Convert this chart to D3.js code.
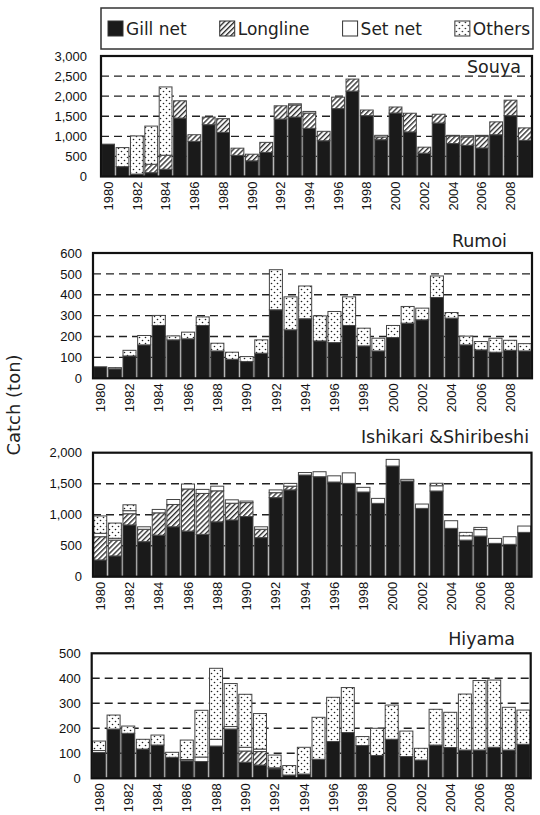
<!DOCTYPE html>
<html>
<head>
<meta charset="utf-8">
<script src="https://cdn.jsdelivr.net/npm/d3@7"></script>
<style>
  html, body { margin: 0; padding: 0; background: #fff; }
  svg { display: block; }
</style>
</head>
<body>
<svg id="chart" width="540" height="815"></svg>
<script>
// Catch by fishing method, four coastal districts, 1980-2009 (tons)
const years = [1980,1981,1982,1983,1984,1985,1986,1987,1988,1989,
               1990,1991,1992,1993,1994,1995,1996,1997,1998,1999,
               2000,2001,2002,2003,2004,2005,2006,2007,2008,2009];
const gearTypes = ["Gill net", "Longline", "Set net", "Others"];

// Souya
const souyaGill   = [805,245,60,95,180,1455,875,1290,1100,525,390,600,1430,1480,1200,890,1690,2125,1515,915,1580,1110,580,1330,820,775,710,1040,1515,900];
const souyaLong   = [0,0,0,210,350,430,165,190,340,180,165,250,330,300,380,235,285,300,140,70,150,465,150,220,190,210,290,320,385,310];
const souyaSet    = [0,0,0,0,0,0,0,0,0,0,0,0,0,30,40,0,0,0,0,40,0,0,0,0,15,30,25,0,0,0];
const souyaOthers = [0,475,950,950,1700,0,0,0,0,0,0,0,0,0,0,0,0,0,0,0,0,0,0,0,0,0,0,0,0,0];

// Rumoi
const rumoiGill   = [55,45,107,160,253,184,189,253,131,91,80,120,328,232,285,179,171,253,155,131,195,264,280,387,288,160,136,125,134,131];
const rumoiLong   = [0,0,0,0,0,0,0,0,0,0,0,0,0,0,0,0,0,0,0,0,0,0,0,0,0,0,0,0,0,0];
const rumoiSet    = [0,0,0,0,0,0,0,0,0,0,0,0,0,0,0,0,0,0,0,0,0,0,0,0,0,0,0,0,0,0];
const rumoiOthers = [0,6,27,45,48,19,32,41,37,34,24,64,192,158,157,120,149,137,85,61,58,80,56,103,27,42,40,67,48,35];

// Ishikari & Shiribeshi
const ishikariGill   = [270,335,835,565,670,805,735,683,885,915,970,630,1275,1400,1640,1613,1527,1505,1366,1183,1785,1543,1102,1382,780,590,655,538,522,715];
const ishikariLong   = [375,255,180,200,360,360,680,660,500,270,225,135,80,60,0,0,0,0,0,0,0,0,0,0,0,0,0,0,0,0];
const ishikariSet    = [55,30,50,40,55,80,80,65,75,55,25,40,45,45,40,80,100,170,75,80,107,27,70,85,123,70,105,80,123,102];
const ishikariOthers = [280,245,95,0,0,0,0,0,0,0,0,0,0,0,0,0,0,0,0,0,0,0,0,40,0,55,35,0,0,0];

// Hiyama
const hiyamaGill   = [103,197,180,117,133,84,70,67,129,197,64,53,38,13,17,76,147,183,131,91,156,87,73,133,123,113,113,124,113,136];
const hiyamaLong   = [0,0,0,0,0,0,0,0,0,0,45,54,0,0,0,0,0,0,0,0,0,0,0,0,0,0,0,0,0,0];
const hiyamaSet    = [8,0,0,0,0,0,5,18,27,10,15,10,4,0,0,0,0,0,0,0,0,0,0,0,0,0,0,0,0,0];
const hiyamaOthers = [38,56,29,39,40,20,78,187,284,172,212,142,51,38,107,168,177,180,36,109,137,102,47,143,141,224,278,269,171,137];

const yTickLabelsSouya    = ["0","500","1,000","1,500","2,000","2,500","3,000"];
const yTickLabelsRumoi    = ["0","100","200","300","400","500","600"];
const yTickLabelsIshikari = ["0","500","1,000","1,500","2,000"];
const yTickLabelsHiyama   = ["0","100","200","300","400","500"];

// Panel layout
const panels = [
  { title: "Souya", series: [souyaGill, souyaLong, souyaSet, souyaOthers], yMax: 3000, step: 500, tickLabels: yTickLabelsSouya,
    x0: 101, x1: 532, y0: 56, y1: 176.5, labelGap: 14, titleX: 521, titleY: 73 },
  { title: "Rumoi", series: [rumoiGill, rumoiLong, rumoiSet, rumoiOthers], yMax: 600, step: 100, tickLabels: yTickLabelsRumoi,
    x0: 93, x1: 532, y0: 253, y1: 378.3, labelGap: 11, titleX: 507, titleY: 247 },
  { title: "Ishikari &Shiribeshi", series: [ishikariGill, ishikariLong, ishikariSet, ishikariOthers], yMax: 2000, step: 500, tickLabels: yTickLabelsIshikari,
    x0: 93, x1: 531.5, y0: 452.7, y1: 576.7, labelGap: 11, titleX: 529, titleY: 443 },
  { title: "Hiyama", series: [hiyamaGill, hiyamaLong, hiyamaSet, hiyamaOthers], yMax: 500, step: 100, tickLabels: yTickLabelsHiyama,
    x0: 91.7, x1: 530.7, y0: 653.3, y1: 778.3, labelGap: 11, titleX: 515, titleY: 645 }
];

const svg = d3.select("#chart");
const defs = svg.append("defs");

// Diagonal hatch for longline
const hatch = defs.append("pattern")
  .attr("id", "hatch").attr("patternUnits", "userSpaceOnUse")
  .attr("width", 3.6).attr("height", 3.6)
  .attr("patternTransform", "rotate(45)");
hatch.append("rect").attr("width", 3.6).attr("height", 3.6).attr("fill", "#fff");
hatch.append("line").attr("x1", 0.7).attr("y1", 0).attr("x2", 0.7).attr("y2", 3.6)
  .attr("stroke", "#222").attr("stroke-width", 1.3);

// Dot fill for others
const dots = defs.append("pattern")
  .attr("id", "dots").attr("patternUnits", "userSpaceOnUse")
  .attr("width", 6).attr("height", 6);
dots.append("rect").attr("width", 6).attr("height", 6).attr("fill", "#fff");
dots.append("circle").attr("cx", 1.5).attr("cy", 1.5).attr("r", 0.8).attr("fill", "#222");
dots.append("circle").attr("cx", 4.5).attr("cy", 4.5).attr("r", 0.8).attr("fill", "#222");

const fills = ["#1a1a1a", "url(#hatch)", "#fff", "url(#dots)"];

const fontTick = "'Liberation Sans', Arial, sans-serif";
const fontTitle = "'DejaVu Sans', sans-serif";

panels.forEach(p => {
  const g = svg.append("g");
  const x = d3.scaleBand().domain(years).range([p.x0, p.x1]).paddingInner(0.11).paddingOuter(0.05);
  const y = d3.scaleLinear().domain([0, p.yMax]).range([p.y1, p.y0]);
  const tickVals = d3.range(0, p.yMax + 1, p.step);

  // dashed grid
  g.append("g").selectAll("line")
    .data(tickVals.filter(v => v > 0 && v < p.yMax))
    .join("line")
    .attr("x1", p.x0).attr("x2", p.x1)
    .attr("y1", d => y(d)).attr("y2", d => y(d))
    .attr("stroke", "#222").attr("stroke-width", 1.4)
    .attr("stroke-dasharray", "8,5");

  // stacked bars
  const rows = years.map((yr, i) => {
    const r = { year: yr };
    gearTypes.forEach((k, j) => { r[k] = p.series[j][i]; });
    return r;
  });
  const stacked = d3.stack().keys(gearTypes)(rows);
  stacked.forEach((layer, li) => {
    g.append("g").selectAll("rect")
      .data(layer.filter(d => d[1] - d[0] > 0))
      .join("rect")
      .attr("x", d => x(d.data.year))
      .attr("width", x.bandwidth())
      .attr("y", d => y(d[1]))
      .attr("height", d => y(d[0]) - y(d[1]))
      .attr("fill", fills[li])
      .attr("stroke", "#444")
      .attr("stroke-width", 1);
  });

  // frame
  g.append("rect")
    .attr("x", p.x0).attr("y", p.y0)
    .attr("width", p.x1 - p.x0).attr("height", p.y1 - p.y0)
    .attr("fill", "none").attr("stroke", "#111").attr("stroke-width", 2.2);

  // y axis labels
  const yAxis = d3.axisLeft(y).tickValues(tickVals).tickSize(0).tickPadding(p.labelGap)
    .tickFormat((d, i) => p.tickLabels[i]);
  const ya = g.append("g").attr("transform", `translate(${p.x0},0)`).call(yAxis);
  ya.select(".domain").remove();
  ya.selectAll("text").attr("font-family", fontTick).attr("font-size", 13).attr("fill", "#111");

  // x axis labels (every other year, rotated)
  const xAxis = d3.axisBottom(x).tickValues(years.filter(v => v % 2 === 0)).tickSize(0);
  const xa = g.append("g").attr("transform", `translate(0,${p.y1})`).call(xAxis);
  xa.select(".domain").remove();
  xa.selectAll("text")
    .attr("font-family", fontTick).attr("font-size", 13).attr("fill", "#111")
    .attr("text-anchor", "end")
    .attr("transform", "rotate(-90)")
    .attr("x", -5).attr("y", 0).attr("dy", "0.36em");

  // district name
  g.append("text")
    .attr("x", p.titleX).attr("y", p.titleY)
    .attr("text-anchor", "end")
    .attr("font-family", fontTitle).attr("font-size", 17.5).attr("fill", "#222")
    .text(p.title);
});

// y-axis title
svg.append("text")
  .attr("transform", "translate(20,405) rotate(-90)")
  .attr("text-anchor", "middle")
  .attr("font-family", fontTitle).attr("font-size", 18).attr("fill", "#222")
  .text("Catch (ton)");

// legend: items spread evenly across the box
const legend = svg.append("g");
const boxX = 101, boxW = 432, boxY = 8, boxH = 41;
legend.append("rect")
  .attr("x", boxX).attr("y", boxY).attr("width", boxW).attr("height", boxH)
  .attr("fill", "#fff").attr("stroke", "#333").attr("stroke-width", 1.5);
const sw = 15, swGap = 3;
const items = gearTypes.map((k, i) => {
  const gi = legend.append("g");
  gi.append("rect")
    .attr("x", 0).attr("y", boxY + boxH / 2 - sw / 2).attr("width", sw).attr("height", sw)
    .attr("fill", fills[i]).attr("stroke", "#333").attr("stroke-width", 1);
  const t = gi.append("text")
    .attr("x", sw + swGap).attr("y", boxY + boxH / 2).attr("dy", "0.36em")
    .attr("font-family", fontTitle).attr("font-size", 17).attr("fill", "#222")
    .text(k);
  return { g: gi, w: sw + swGap + t.node().getComputedTextLength() };
});
const padL = 7, padR = 3;
const totalW = d3.sum(items, d => d.w);
const gap = (boxW - padL - padR - totalW) / (items.length - 1);
let cx = boxX + padL;
items.forEach(it => {
  it.g.attr("transform", `translate(${cx},0)`);
  cx += it.w + gap;
});
</script>
</body>
</html>
